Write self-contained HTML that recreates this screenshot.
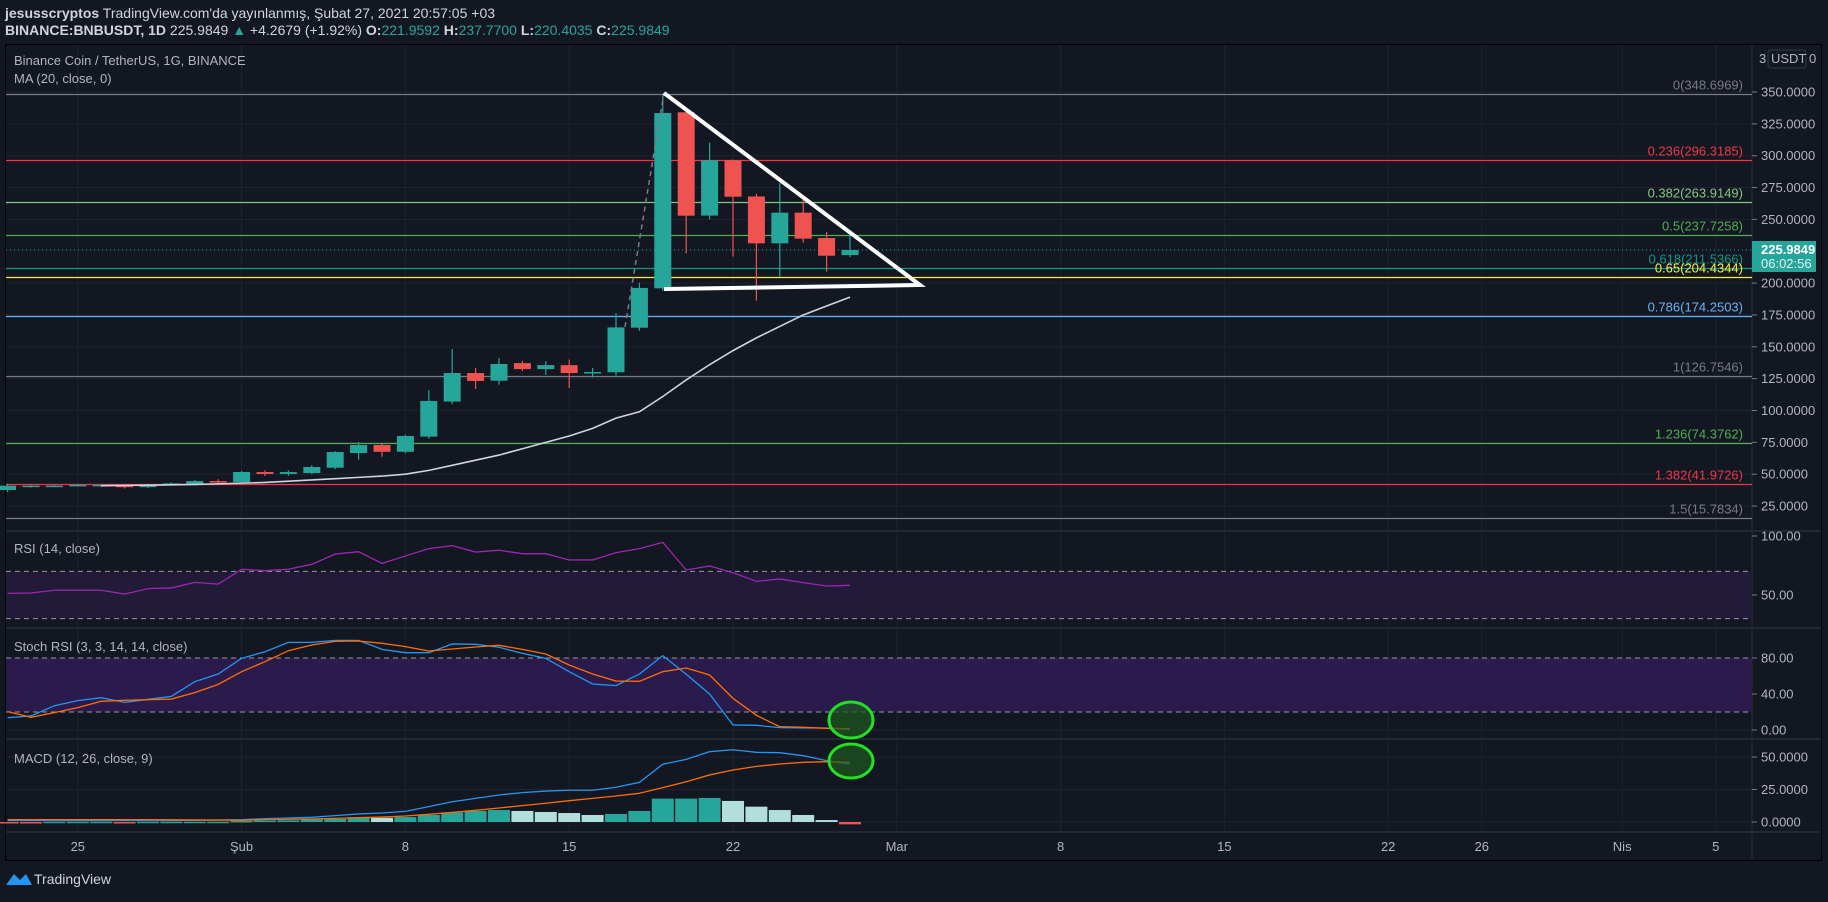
<!DOCTYPE html>
<html><head><meta charset="utf-8">
<style>
html,body{margin:0;padding:0;background:#131722;}
body{width:1828px;height:897px;overflow:hidden;font-family:"Liberation Sans",sans-serif;}
svg text{font-family:"Liberation Sans",sans-serif;}
</style></head>
<body>
<svg id="chart" width="1828" height="897" viewBox="0 0 1828 897" xmlns="http://www.w3.org/2000/svg">
<rect x="0" y="0" width="1828" height="897" fill="#131722"/>
<text x="5" y="18" font-size="14" fill="#d1d4dc"><tspan font-weight="bold">jesusscryptos</tspan> TradingView.com'da yayınlanmış, Şubat 27, 2021 20:57:05 +03</text>
<text x="5" y="35" font-size="14" fill="#d1d4dc"><tspan font-weight="bold">BINANCE:BNBUSDT, 1D</tspan> 225.9849 <tspan fill="#26a69a">▲</tspan> +4.2679 (+1.92%) <tspan font-weight="bold">O:</tspan><tspan fill="#26a69a">221.9592</tspan> <tspan font-weight="bold">H:</tspan><tspan fill="#26a69a">237.7700</tspan> <tspan font-weight="bold">L:</tspan><tspan fill="#26a69a">220.4035</tspan> <tspan font-weight="bold">C:</tspan><tspan fill="#26a69a">225.9849</tspan></text>
<rect x="5.5" y="44.5" width="1816" height="816" fill="#131722" stroke="#000" stroke-width="1"/>
<g id="grid"></g>
<g id="bands"></g>
<g id="fib"></g>
<g id="main"></g>
<g id="ind"></g>
<g id="axes"></g>
<g id="overlay"></g>
</svg>
<script>
// ---- data ----
const dates = ["Jan22","Jan23","Jan24","Jan25","Jan26","Jan27","Jan28","Jan29","Jan30","Jan31","Feb1","Feb2","Feb3","Feb4","Feb5","Feb6","Feb7","Feb8","Feb9","Feb10","Feb11","Feb12","Feb13","Feb14","Feb15","Feb16","Feb17","Feb18","Feb19","Feb20","Feb21","Feb22","Feb23","Feb24","Feb25","Feb26","Feb27"];
const opens  = [37.6,40.2,40.2,41.5,41.4,41.4,39.8,42.0,42.3,44.6,43.8,51.7,50.2,50.9,55.1,66.6,72.9,67.6,79.5,107.0,129.4,123.4,137.2,132.5,135.6,129.4,130.0,165.0,195.9,334.1,253.0,296.4,268.0,231.2,255.3,235.4,221.96];
const highs  = [42.5,41.5,41.5,42.5,42.0,42.0,42.5,43.5,45.5,46.0,52.5,53.0,53.0,57.0,68.0,75.3,74.0,81.0,116.0,148.3,133.4,141.2,138.8,138.8,140.0,133.4,176.3,200.3,348.7,336.0,310.3,297.0,270.0,278.6,269.0,240.1,237.77];
const lows   = [36.0,39.5,39.8,40.5,39.8,38.8,39.2,41.5,42.0,42.5,43.0,48.6,48.8,50.0,54.0,61.4,63.7,66.5,77.9,105.0,116.9,120.3,131.0,127.9,117.7,125.8,127.5,162.6,194.0,223.4,250.0,220.8,186.2,205.0,231.7,209.0,220.40];
const closes = [41.0,41.0,41.0,41.6,41.6,39.8,41.0,42.8,44.6,43.8,51.7,50.2,51.7,55.6,67.4,72.9,67.6,80.0,107.5,129.4,123.2,136.5,132.5,135.6,129.4,130.2,165.2,196.2,333.5,252.9,296.4,267.8,231.2,255.3,234.9,221.5,225.98];
const ma20   = [null,null,null,null,41.0,41.2,41.4,41.7,42.0,42.4,43.0,43.5,44.5,45.5,46.5,47.5,48.5,50,53,57,61,65,70,75,80,86,94,99,111,124,136,147,157,166,175,182,189];
const rsi    = [51.4,51.7,54.0,54.0,54.0,50.8,55.4,56.0,60.7,59.2,71.8,70.6,71.8,76.0,84.7,86.7,76.8,83.1,89.3,91.8,86.4,87.9,85.0,85.0,79.7,79.7,85.9,89.3,94.6,71.2,74.6,68.9,61.6,63.6,60.5,57.6,58.2];
const stochK = [13.7,15.6,27.0,32.6,35.9,30.7,34.1,37.4,53.7,62.2,79.6,87.0,97.4,97.4,99.6,99.6,89.6,85.9,85.9,95.6,95.2,91.9,85.2,79.6,64.8,51.1,49.3,62.2,82.6,61.9,40.0,5.6,5.2,2.6,2.2,2.2,0.7];
const stochD = [20.4,14.1,19.3,24.8,31.9,33.0,33.7,34.4,41.5,50.7,64.8,75.9,88.1,94.4,98.5,98.9,96.3,92.6,87.8,90.0,92.2,94.1,89.6,84.4,72.2,62.2,54.4,54.1,64.8,68.9,61.1,35.2,16.3,3.7,3.0,1.9,1.5];
const macd   = [1.2,1.2,1.2,1.2,1.2,1.2,1.2,1.2,1.3,1.5,1.8,2.6,3.1,3.6,4.9,6.2,6.9,8.2,11.8,15.6,18.2,20.8,22.6,23.8,24.4,24.4,26.7,30.5,44.4,48.2,54.1,55.6,53.6,53.3,51.0,47.2,44.4];
const signal = [1.8,1.8,1.8,1.8,1.8,1.8,1.8,1.7,1.6,1.5,1.3,1.8,2.1,2.3,2.8,3.3,3.8,4.6,5.9,7.4,9.0,10.8,12.6,14.4,16.4,18.2,20.0,22.1,26.4,31.0,36.2,40.0,42.8,44.6,45.9,46.4,45.9];
const hist   = [-0.3,-0.3,0.2,0.2,0.2,-0.3,0.2,0.2,0.2,0.2,0.8,1.1,1.3,2.1,2.3,3.6,3.2,3.8,5.4,7.4,8.5,9.2,8.5,7.7,6.9,5.4,6.2,8.5,18.0,18.0,18.5,16.2,11.8,9.2,5.4,1.5,-1.8];
const fibLevels = ["0","0.236","0.382","0.5","0.618","0.65","0.786","1","1.236","1.382","1.5"];
const fibPrices = [348.6969,296.3185,263.9149,237.7258,211.5366,204.4344,174.2503,126.7546,74.3762,41.9726,15.7834];
const fibColors = ["#787b86","#f23645","#81c784","#4caf50","#089981","#ffeb3b","#64b5f6","#787b86","#4caf50","#f23645","#787b86"];
const priceTicks = [350,325,300,275,250,200,175,150,125,100,75,50,25];
const rsiTicks = [100,50];
const stochTicks = [80,40,0];
const macdTicks = [50,25,0];
const timeLabels = ["25","Şub","8","15","22","Mar","8","15","22","26","Nis","5"];
const timeOffsets = [-28,-21,-14,-7,0,7,14,21,28,32,38,42];

// ---- scales ----
const NS="http://www.w3.org/2000/svg";
const LEFT=6, RIGHT=1752;
function xi(i){return 733+(i-31)*23.4;}
function xo(off){return 733+off*23.4;}
function yP(p){return 92+(350-p)*1.274;}
function yR(v){return 595-(v-50)*1.18;}
function yS(v){return 730-v*0.9;}
function yM(v){return 822-v*1.3;}
function el(tag,attrs,parent){const e=document.createElementNS(NS,tag);for(const k in attrs)e.setAttribute(k,attrs[k]);document.getElementById(parent).appendChild(e);return e;}
function fmt4(v){return v.toFixed(4);}

// ---- grid ----
priceTicks.forEach(t=>{const g=el('line',{x1:LEFT,x2:RIGHT,y1:yP(t),y2:yP(t),stroke:'#1f2330','stroke-width':1},'grid');

});
[yR(50)].concat(stochTicks.map(yS),macdTicks.map(yM)).forEach(y=>{const g=el('line',{x1:LEFT,x2:RIGHT,y1:y,y2:y,stroke:'#1f2330','stroke-width':1},'grid');

});
timeOffsets.forEach(o=>{const g=el('line',{x1:xo(o),x2:xo(o),y1:45,y2:832,stroke:'#1f2330','stroke-width':1},'grid');

});
[531,628,739,832].forEach(y=>{const s=el('line',{x1:LEFT,x2:1821,y1:y,y2:y,stroke:'#2a2e39','stroke-width':1.5},'grid');

});
const axl=el('line',{x1:RIGHT,x2:RIGHT,y1:45,y2:860,stroke:'#2a2e39','stroke-width':1},'grid');



// ---- bands ----
const rb=el('rect',{x:LEFT,y:yR(70),width:RIGHT-LEFT,height:yR(30)-yR(70),fill:'#211a38'},'bands');


const sb=el('rect',{x:LEFT,y:yS(80),width:RIGHT-LEFT,height:yS(20)-yS(80),fill:'#2b1a4c'},'bands');


[yR(70),yR(30),yS(80),yS(20)].forEach(y=>{const d=el('line',{x1:LEFT,x2:RIGHT,y1:y,y2:y,stroke:'#9598a1','stroke-width':1,'stroke-dasharray':'5,4'},'bands');

});

// ---- fib ----
fibPrices.forEach((p,k)=>{const y=Math.round(yP(p))+0.5;
const l=el('line',{x1:LEFT,x2:RIGHT,y1:y,y2:y,stroke:fibColors[k],'stroke-width':1.3},'fib');


const t=el('text',{x:1743,y:y-5,'text-anchor':'end','font-size':13,fill:fibColors[k]},'fib');
t.textContent=fibLevels[k]+'('+fmt4(p)+')';

});

// ---- candles ----
const last=closes[closes.length-1];
const dl=el('line',{x1:LEFT,x2:RIGHT,y1:yP(last),y2:yP(last),stroke:'#26a69a','stroke-width':1,'stroke-dasharray':'1,3'},'main');


dates.forEach((d,i)=>{const up=closes[i]>=opens[i];const c=up?'#26a69a':'#ef5350';const x=xi(i);
const w=el('line',{x1:x,x2:x,y1:yP(highs[i]),y2:yP(lows[i]),stroke:c,'stroke-width':1.2},'main');


const t=Math.min(yP(opens[i]),yP(closes[i]));const h=Math.max(1.5,Math.abs(yP(opens[i])-yP(closes[i])));
const b=el('rect',{x:x-8.5,y:t,width:17,height:h,fill:c},'main');

});
let maPts=[];ma20.forEach((v,i)=>{if(v!==null)maPts.push(xi(i)+','+yP(v));});
const ma=el('polyline',{points:maPts.join(' '),fill:'none',stroke:'#d1d4dc','stroke-width':1.6},'main');



// ---- indicators ----
function line(arr,yf,color,name,w){const pts=arr.map((v,i)=>xi(i)+','+yf(v)).join(' ');
const p=el('polyline',{points:pts,fill:'none',stroke:color,'stroke-width':w||1.3},'ind');

}
line(rsi,yR,'#9c27b0','rsi-line');
line(stochK,yS,'#2196f3','stoch-k-line');
line(stochD,yS,'#ff6d00','stoch-d-line');
hist.forEach((v,i)=>{const prev=i>0?hist[i-1]:0;let c;
if(v>=0)c=(v>=prev)?'#26a69a':'#b2dfdb';else c=(v<=prev)?'#ef5350':'#ffcdd2';
const y0=yM(0),y1=yM(v);
const r=el('rect',{x:xi(i)-11,y:Math.min(y0,y1),width:22,height:Math.max(1.5,Math.abs(y1-y0)),fill:c},'ind');

});
line(macd,yM,'#2196f3','macd-line');
line(signal,yM,'#ff6d00','macd-signal-line');

// ---- axes labels ----
function axText(txt,y,name){const t=el('text',{x:1761,y:y+4.5,'font-size':13,fill:'#b2b5be'},'axes');t.textContent=txt;


const tk=el('line',{x1:RIGHT,x2:RIGHT+5,y1:y,y2:y,stroke:'#787b86'},'axes');

}
priceTicks.forEach(t=>axText(fmt4(t),yP(t),'price-tick-label'));
rsiTicks.forEach(t=>axText(t.toFixed(2),yR(t),'rsi-tick-label'));
stochTicks.forEach(t=>axText(t.toFixed(2),yS(t),'stoch-tick-label'));
macdTicks.forEach(t=>axText(fmt4(t),yM(t),'macd-tick-label'));
timeLabels.forEach((s,k)=>{const t=el('text',{x:xo(timeOffsets[k]),y:851,'text-anchor':'middle','font-size':13,fill:'#b2b5be'},'axes');t.textContent=s;

});
</script>
<svg style="position:absolute;left:0;top:0" width="1828" height="897">
<text x="14" y="65" font-size="13" fill="#b2b5be" font-family="Liberation Sans">Binance Coin / TetherUS, 1G, BINANCE</text>
<text x="14" y="83" font-size="13" fill="#b2b5be" font-family="Liberation Sans">MA (20, close, 0)</text>
<text x="14" y="553" font-size="13" fill="#b2b5be" font-family="Liberation Sans">RSI (14, close)</text>
<text x="14" y="651" font-size="13" fill="#b2b5be" font-family="Liberation Sans">Stoch RSI (3, 3, 14, 14, close)</text>
<text x="14" y="763" font-size="13" fill="#b2b5be" font-family="Liberation Sans">MACD (12, 26, close, 9)</text>
<text x="1759" y="63" font-size="13" fill="#b2b5be" font-family="Liberation Sans">3</text>
<rect x="1768" y="50" width="38" height="18" rx="3" fill="none" stroke="#363a45"/>
<text x="1771" y="63" font-size="13" fill="#b2b5be" font-family="Liberation Sans">USDT</text>
<text x="1809" y="63" font-size="13" fill="#b2b5be" font-family="Liberation Sans">0</text>
<rect x="1752" y="241" width="64" height="31" fill="#26a69a"/>
<text x="1761" y="254" font-size="13" font-weight="bold" fill="#ffffff" font-family="Liberation Sans">225.9849</text>
<text x="1761" y="268" font-size="13" fill="#e0f2f1" font-family="Liberation Sans">06:02:56</text>
<line x1="625" y1="327" x2="664" y2="93" stroke="#787b86" stroke-width="1.5" stroke-dasharray="5,4"/>
<polyline points="664,93 920,285 664,289" fill="none" stroke="#ffffff" stroke-width="4" stroke-linejoin="miter"/>
<ellipse cx="851" cy="720" rx="22" ry="18" fill="rgba(30,90,30,0.7)" stroke="#22e022" stroke-width="3"/>
<ellipse cx="851" cy="761" rx="22" ry="17" fill="rgba(30,90,30,0.7)" stroke="#22e022" stroke-width="3"/>
<g>
<path d="M6 885 L14 874 L20 880 L26 874 L32 885 Z" fill="#2196f3"/>
<text x="34" y="884" font-size="14" fill="#d1d4dc" font-family="Liberation Sans">TradingView</text>
</g>
</svg>
</body></html>
